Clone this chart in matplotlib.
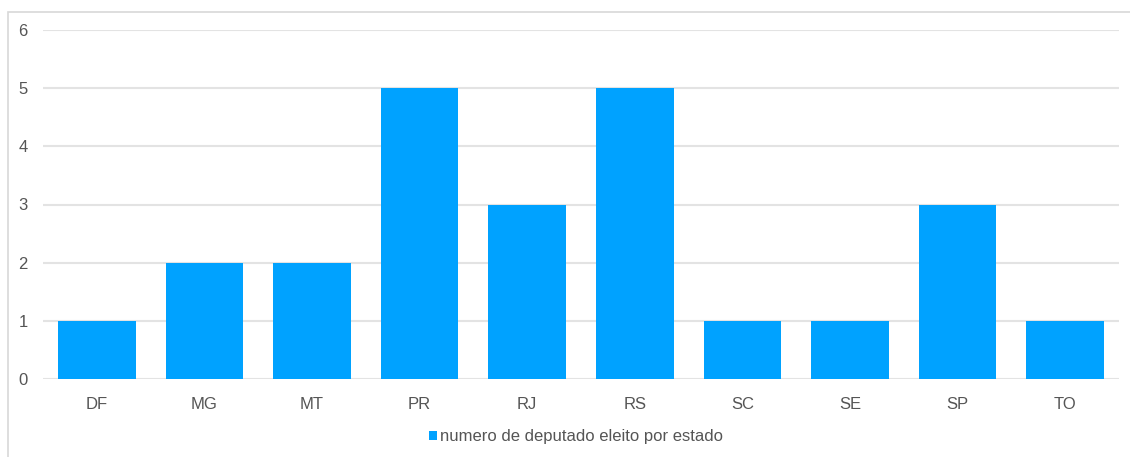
#!/usr/bin/env python3
"""Numero de deputado eleito por estado - bar chart."""

import matplotlib.pyplot as plt
from matplotlib.patches import Rectangle

estados = ['DF', 'MG', 'MT', 'PR', 'RJ', 'RS', 'SC', 'SE', 'SP', 'TO']
deputados = [1, 2, 2, 5, 3, 5, 1, 1, 3, 1]
y_ticks = [0, 1, 2, 3, 4, 5, 6]

plt.rcParams['font.family'] = ['Liberation Sans', 'DejaVu Sans']

W, H = 1130, 457
fig = plt.figure(figsize=(W / 100, H / 100), dpi=100)
ax = fig.add_axes([43 / W, 78 / H, (1119 - 43) / W, (379 - 30) / H])

bar_color = '#00a2ff'
ax.bar(range(len(estados)), deputados, width=0.72, color=bar_color,
       label='numero de deputado eleito por estado', zorder=3)

ax.set_xlim(-0.5, len(estados) - 0.5)
ax.set_ylim(0, 6)
ax.set_yticks(y_ticks)
ax.set_xticks(range(len(estados)))
ax.set_xticklabels(estados)
ax.grid(axis='y', color='#e3e3e3', linewidth=1.5, zorder=0)
for s in ax.spines.values():
    s.set_visible(False)
ax.tick_params(length=0, labelsize=12, labelcolor='#555555')
ax.tick_params(axis='x', pad=13)
ax.tick_params(axis='y', pad=11)

# outer frame of the chart box
fig.patches.append(Rectangle((7.5 / W, -0.1), 1.2, (H - 11.5) / H + 0.1,
                             transform=fig.transFigure, fill=False,
                             edgecolor='#d8d8d8', linewidth=1.2))

fig.legend(loc='center', bbox_to_anchor=(576 / W, 1 - 437 / H), frameon=False,
           fontsize=12, labelcolor='#555555', handlelength=0.5,
           handleheight=0.5, handletextpad=0.2)

plt.savefig('out.png', dpi=100)
